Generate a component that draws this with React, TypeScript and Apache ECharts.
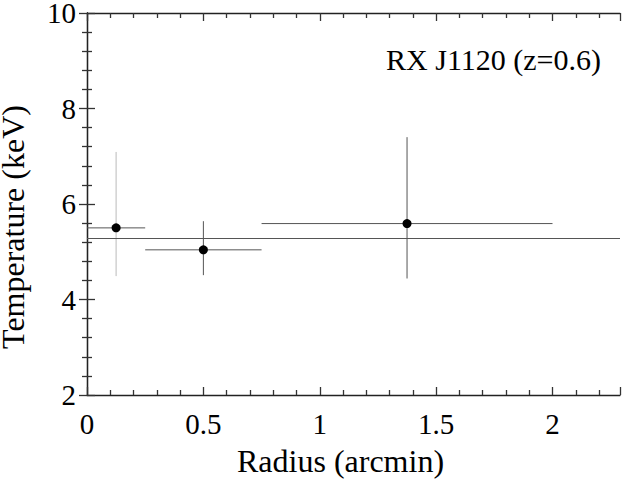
import React, { useEffect, useRef } from "react";
import * as echarts from "echarts";

const radius = [0.125, 0.5, 1.375];
const radiusLow = [0, 0.25, 0.75];
const radiusHigh = [0.25, 0.75, 2.0];
const temperature = [5.5, 5.04, 5.59];
const tempLow = [4.49, 4.51, 4.44];
const tempHigh = [7.09, 5.64, 7.4];
const meanTemperature = 5.28;
const xRange = [0, 2.29];
const yRange = [2, 10];
const xLabel = "Radius (arcmin)";
const yLabel = "Temperature (keV)";
const title = "RX J1120 (z=0.6)";

const FONT = "Liberation Serif, Times New Roman, serif";

export default function App() {
  const ref = useRef<HTMLDivElement>(null);
  useEffect(() => {
    if (!ref.current) return;
    const chart = echarts.init(ref.current, undefined, { renderer: "svg" });
    const axisCommon = {
      axisLine: { show: true, lineStyle: { color: "#222", width: 1.3 } },
      axisTick: { show: true, inside: true, length: 8, lineStyle: { color: "#333", width: 1.3 } },
      minorTick: { show: true, splitNumber: 5, length: 5, lineStyle: { color: "#333", width: 1.3 } },
      splitLine: { show: false },
      minorSplitLine: { show: false },
    };
    const errData = radius.map((r, i) => [r, temperature[i], radiusLow[i], radiusHigh[i], tempLow[i], tempHigh[i]]);
    chart.setOption({
      animation: false,
      backgroundColor: "#fff",
      grid: { left: 87, right: 2, top: 13, bottom: 85, containLabel: false, outerBoundsMode: "none" },
      xAxis: [
        {
          type: "value",
          min: xRange[0],
          max: xRange[1],
          interval: 0.5,
          position: "bottom",
          name: xLabel,
          nameLocation: "middle",
          nameGap: 50,
          nameTextStyle: { fontFamily: FONT, fontSize: 32, color: "#000", padding: [0, 26, 0, 0] },
          axisLabel: { fontFamily: FONT, fontSize: 29, color: "#000", margin: 14, showMaxLabel: false },
          ...axisCommon,
        },
        {
          type: "value",
          min: xRange[0],
          max: xRange[1],
          interval: 0.5,
          position: "top",
          axisLabel: { show: false },
          ...axisCommon,
        },
      ],
      yAxis: [
        {
          type: "value",
          min: yRange[0],
          max: yRange[1],
          interval: 2,
          position: "left",
          name: yLabel,
          nameLocation: "middle",
          nameGap: 58,
          nameTextStyle: { fontFamily: FONT, fontSize: 32, color: "#000", padding: [0, 46, 0, 0] },
          axisLabel: { fontFamily: FONT, fontSize: 29, color: "#000", margin: 11 },
          ...axisCommon,
        },
        {
          type: "value",
          min: yRange[0],
          max: yRange[1],
          interval: 2,
          position: "right",
          axisLabel: { show: false },
          ...axisCommon,
        },
      ],
      graphic: [
        {
          type: "text",
          right: 21,
          top: 44,
          style: { text: title, fontFamily: FONT, fontSize: 30, fill: "#000" },
        },
      ],
      series: [
        {
          type: "custom",
          xAxisIndex: 0,
          yAxisIndex: 0,
          data: errData,
          encode: { x: [0, 2, 3], y: [1, 4, 5] },
          renderItem: (params: any, api: any) => {
            const x = api.value(0);
            const y = api.value(1);
            const pL = api.coord([api.value(2), y]);
            const pR = api.coord([api.value(3), y]);
            const pB = api.coord([x, api.value(4)]);
            const pT = api.coord([x, api.value(5)]);
            return {
              type: "group",
              children: [
                {
                  type: "line",
                  shape: { x1: pL[0], y1: pL[1], x2: pR[0], y2: pR[1] },
                  style: { stroke: "#555", lineWidth: 1 },
                },
                {
                  type: "line",
                  shape: { x1: pB[0], y1: pB[1], x2: pT[0], y2: pT[1] },
                  style: { stroke: params.dataIndex === 0 ? "#bbb" : "#555", lineWidth: 1 },
                },
              ],
            };
          },
          z: 2,
        },
        {
          type: "scatter",
          xAxisIndex: 0,
          yAxisIndex: 0,
          data: radius.map((r, i) => [r, temperature[i]]),
          symbol: "circle",
          symbolSize: 9,
          itemStyle: { color: "#000", opacity: 1 },
          z: 3,
          markLine: {
            silent: true,
            symbol: "none",
            label: { show: false },
            lineStyle: { color: "#555", width: 1, type: "solid" },
            data: [{ yAxis: meanTemperature }],
          },
        },
      ],
    });
    return () => chart.dispose();
  }, []);
  return <div ref={ref} style={{ position: "absolute", left: 0, top: 0, width: 622, height: 480 }} />;
}
